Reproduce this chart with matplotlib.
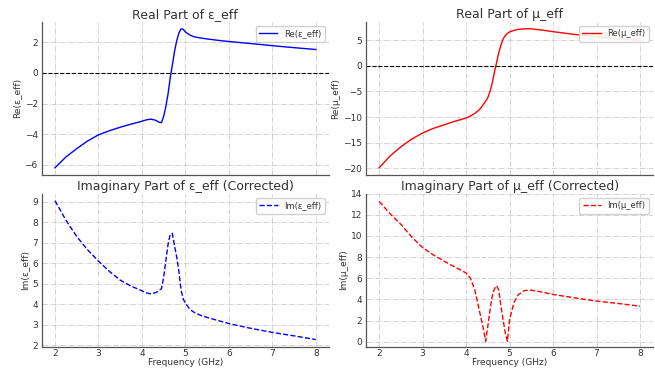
import matplotlib
matplotlib.use("Agg")
import matplotlib.pyplot as plt

freq = [2.0, 2.25, 2.5, 2.75, 3.0, 3.25, 3.5, 3.75, 4.0, 4.1, 4.2, 4.3, 4.35, 4.4,
        4.45, 4.5, 4.55, 4.6, 4.65, 4.7, 4.75, 4.8, 4.85, 4.9, 4.95, 5.0, 5.1, 5.2,
        5.35, 5.5, 5.75, 6.0, 6.5, 7.0, 7.5, 8.0]

re_eps = [-6.2, -5.5, -4.95, -4.45, -4.05, -3.78, -3.55, -3.35, -3.16, -3.07, -3.02,
          -3.08, -3.15, -3.23, -3.25, -2.85, -2.2, -1.4, -0.35, 0.5, 1.4, 2.1, 2.6,
          2.88, 2.85, 2.68, 2.48, 2.36, 2.28, 2.22, 2.13, 2.05, 1.92, 1.78, 1.65, 1.53]

re_mu = [-19.9, -17.6, -15.8, -14.3, -13.1, -12.2, -11.5, -10.8, -10.2, -9.8, -9.3,
         -8.6, -8.1, -7.5, -6.9, -6.2, -5.0, -3.4, -1.3, 0.6, 2.5, 4.0, 5.2, 5.9, 6.3,
         6.6, 6.9, 7.1, 7.2, 7.2, 6.95, 6.65, 6.1, 5.65, 5.3, 4.95]

im_eps = [9.05, 8.1, 7.3, 6.65, 6.1, 5.6, 5.17, 4.88, 4.65, 4.55, 4.5, 4.55, 4.6,
          4.68, 4.75, 5.3, 6.1, 6.9, 7.4, 7.45, 6.85, 6.3, 5.6, 4.7, 4.25, 4.05, 3.75,
          3.6, 3.45, 3.35, 3.2, 3.05, 2.82, 2.62, 2.45, 2.27]

im_mu = [13.27, 12.1, 11.1, 9.9, 8.9, 8.2, 7.6, 7.05, 6.5, 6.0, 4.9, 3.05, 2.1, 1.15,
         0.05, 1.5, 3.0, 4.3, 5.0, 5.3, 4.9, 3.4, 2.1, 0.85, 0.05, 2.1, 3.7, 4.45,
         4.85, 4.87, 4.7, 4.47, 4.15, 3.84, 3.62, 3.36]

plt.rcParams.update({
    "font.size": 6.5,
    "axes.titlesize": 9,
    "axes.labelsize": 6.5,
    "xtick.labelsize": 6.5,
    "ytick.labelsize": 6.5,
    "legend.fontsize": 6,
    "text.color": "#333333",
    "axes.labelcolor": "#333333",
    "xtick.color": "#333333",
    "ytick.color": "#333333",
})

fig, axes = plt.subplots(2, 2, figsize=(6.55, 3.71), dpi=100, sharex=True)
fig.subplots_adjust(left=0.064, right=0.997, top=0.941, bottom=0.066,
                    wspace=0.13, hspace=0.124)

panels = [
    (axes[0, 0], re_eps, "blue", "-", "Re(ε_eff)", "Real Part of ε_eff", True),
    (axes[0, 1], re_mu, "red", "-", "Re(μ_eff)", "Real Part of μ_eff", True),
    (axes[1, 0], im_eps, "blue", "--", "Im(ε_eff)", "Imaginary Part of ε_eff (Corrected)", False),
    (axes[1, 1], im_mu, "red", "--", "Im(μ_eff)", "Imaginary Part of μ_eff (Corrected)", False),
]

for ax, vals, col, ls, lab, title, zero in panels:
    ax.plot(freq, vals, color=col, linestyle=ls, linewidth=1.0, label=lab)
    if zero:
        ax.axhline(0, color="black", linestyle="--", linewidth=0.8)
    ax.set_title(title, pad=3)
    ax.set_ylabel(lab, labelpad=2)
    ax.grid(True, linestyle="-.", linewidth=0.6, color="#cccccc")
    for s in ["top", "right"]:
        ax.spines[s].set_visible(False)
    for s in ["left", "bottom"]:
        ax.spines[s].set_color("#555555")
        ax.spines[s].set_linewidth(0.9)
    ax.tick_params(axis="y", length=0, pad=3)
    ax.tick_params(axis="x", length=0, pad=1.5)
    ax.legend(loc="upper right", handlelength=2.2, borderpad=0.4, framealpha=0.9)

axes[1, 1].set_ylim(-0.45, 14.0)

for ax in axes[1]:
    ax.set_xlabel("Frequency (GHz)", labelpad=0.5)
    ax.set_xticks([2, 3, 4, 5, 6, 7, 8])
axes[0, 0].tick_params(labelbottom=False)
axes[0, 1].tick_params(labelbottom=False)

fig.savefig("out.png", dpi=100)
